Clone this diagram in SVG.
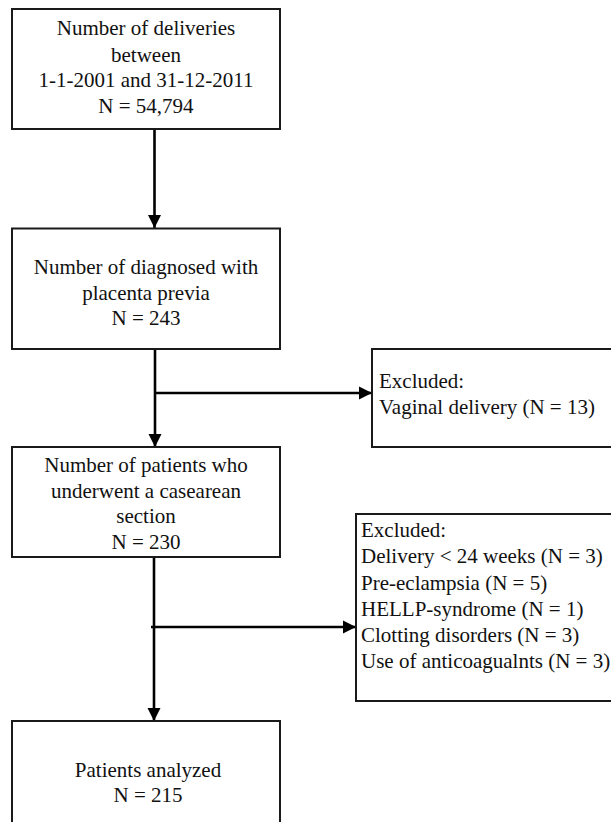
<svg xmlns="http://www.w3.org/2000/svg" width="611" height="822" viewBox="0 0 611 822">
  <defs>
    <style>
      .box { fill: #ffffff; stroke: #1a1a1a; stroke-width: 2; }
      .lbl { font-family: "Liberation Serif", "Times New Roman", serif; font-size: 21px; fill: #111111; }
      .c { text-anchor: middle; }
      .conn { stroke: #000000; stroke-width: 2.6; fill: none; }
    </style>
    <marker id="arrow" markerUnits="userSpaceOnUse" markerWidth="14" markerHeight="14" refX="13" refY="7" orient="auto">
      <path d="M0,0.5 L13,7 L0,13.5 z" fill="#000000"/>
    </marker>
  </defs>
  <rect width="611" height="822" fill="#ffffff"/>

  <g id="connectors">
    <line class="conn" x1="154.5" y1="130" x2="154.5" y2="228" marker-end="url(#arrow)"/>
    <line class="conn" x1="155" y1="350" x2="155" y2="447" marker-end="url(#arrow)"/>
    <line class="conn" x1="155" y1="393" x2="372" y2="393" marker-end="url(#arrow)"/>
    <line class="conn" x1="154" y1="558" x2="154" y2="721" marker-end="url(#arrow)"/>
    <line class="conn" x1="151" y1="627" x2="356" y2="627" marker-end="url(#arrow)"/>
  </g>

  <g id="node-deliveries">
    <rect class="box" x="12" y="9" width="268" height="120"/>
    <text class="lbl c" x="146" y="35">Number of deliveries</text>
    <text class="lbl c" x="146" y="61.5">between</text>
    <text class="lbl c" x="146" y="87">1-1-2001 and 31-12-2011</text>
    <text class="lbl c" x="146" y="113">N = 54,794</text>
  </g>

  <g id="node-previa">
    <rect class="box" x="12" y="228.5" width="268" height="120.5"/>
    <text class="lbl c" x="146" y="274">Number of diagnosed with</text>
    <text class="lbl c" x="146" y="300">placenta previa</text>
    <text class="lbl c" x="146" y="325">N = 243</text>
  </g>

  <g id="node-excluded-vaginal">
    <rect class="box" x="372" y="349" width="242" height="98"/>
    <text class="lbl" x="379" y="388">Excluded:</text>
    <text class="lbl" x="379" y="414">Vaginal delivery (N = 13)</text>
  </g>

  <g id="node-caesarean">
    <rect class="box" x="12" y="447" width="268" height="110"/>
    <text class="lbl c" x="146" y="472">Number of patients who</text>
    <text class="lbl c" x="146" y="498">underwent a casearean</text>
    <text class="lbl c" x="146" y="523">section</text>
    <text class="lbl c" x="146" y="549">N = 230</text>
  </g>

  <g id="node-excluded-other">
    <rect class="box" x="356" y="514" width="258" height="187"/>
    <text class="lbl" x="361" y="537">Excluded:</text>
    <text class="lbl" x="361" y="563">Delivery &lt; 24 weeks (N = 3)</text>
    <text class="lbl" x="361" y="590">Pre-eclampsia (N = 5)</text>
    <text class="lbl" x="361" y="616">HELLP-syndrome (N = 1)</text>
    <text class="lbl" x="361" y="642">Clotting disorders (N = 3)</text>
    <text class="lbl" x="361" y="668">Use of anticoagualnts (N = 3)</text>
  </g>

  <g id="node-analyzed">
    <rect class="box" x="12" y="721" width="268" height="120"/>
    <text class="lbl c" x="148" y="777">Patients analyzed</text>
    <text class="lbl c" x="148" y="802">N = 215</text>
  </g>
</svg>
